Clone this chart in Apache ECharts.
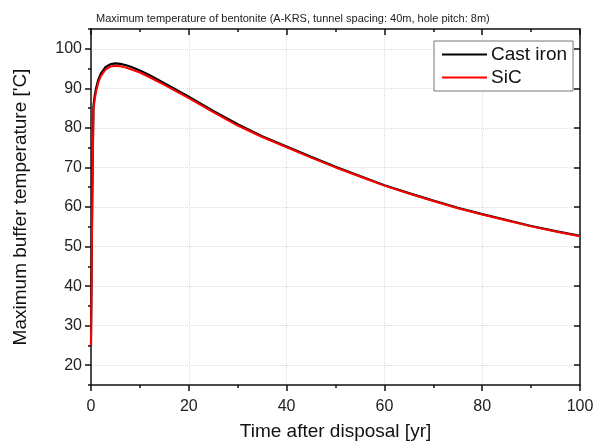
<!DOCTYPE html>
<html>
<head>
<meta charset="utf-8">
<script src="https://cdn.jsdelivr.net/npm/echarts@6/dist/echarts.min.js"></script>
<style>
  html, body { margin: 0; padding: 0; background: #fff; }
  #chart { width: 596px; height: 442px; }
</style>
</head>
<body>
<div id="chart"></div>
<script>
// time after disposal [yr]
var years = [0, 0.25, 0.5, 0.75, 1, 1.5, 2, 3, 4, 5, 6, 7, 8, 10, 12, 15, 20, 25, 30, 35, 40, 45, 50, 55, 60, 65, 70, 75, 80, 85, 90, 95, 100];
// max buffer temperature ['C]
var castIron = [25, 62, 85.5, 88, 89.8, 92.2, 93.7, 95.4, 96.1, 96.3, 96.2, 95.9, 95.5, 94.5, 93.3, 91.3, 87.9, 84.3, 80.9, 77.9, 75.3, 72.7, 70.2, 67.8, 65.5, 63.5, 61.6, 59.8, 58.2, 56.7, 55.2, 53.9, 52.7];
var sic      = [25, 60, 84.5, 87, 89, 91.5, 93.1, 94.8, 95.5, 95.7, 95.6, 95.3, 94.9, 94.0, 92.8, 90.9, 87.5, 84.0, 80.6, 77.7, 75.1, 72.5, 70.0, 67.7, 65.4, 63.4, 61.5, 59.7, 58.1, 56.6, 55.1, 53.8, 52.6];

var yMajor = [20, 30, 40, 50, 60, 70, 80, 90, 100];
var yMinor = [15, 25, 35, 45, 55, 65, 75, 85, 95, 105];

function pairs(xs, ys) {
	return xs.map(function (x, i) { return [x, ys[i]]; });
}

var chart = echarts.init(document.getElementById('chart'));

var axisLine = { show: true, onZero: false, lineStyle: { color: '#111', width: 1.5 } };
var gridLine = { show: true, lineStyle: { color: '#dcdcdc', type: 'dotted', width: 1 } };
var font = 'Liberation Sans, Arial, sans-serif';

var option = {
	animation: false,
	textStyle: { fontFamily: font },
	title: {
		text: 'Maximum temperature of bentonite (A-KRS, tunnel spacing: 40m, hole pitch: 8m)',
		left: 91,
		top: 8,
		textStyle: { fontSize: 11, fontWeight: 'normal', color: '#222', fontFamily: font }
	},
	grid: { left: 91, right: 16, top: 29, bottom: 57, outerBoundsMode: 'none', containLabel: false },
	legend: {
		orient: 'vertical',
		left: 434,
		top: 41,
		padding: [4, 6, 4, 8],
		itemGap: 4,
		itemWidth: 45,
		itemHeight: 2,
		icon: 'rect',
		backgroundColor: '#fff',
		borderColor: '#777',
		borderWidth: 1,
		borderRadius: 0,
		textStyle: { fontSize: 19, color: '#111', fontFamily: font, padding: [0, 0, 0, -1] },
		data: ['Cast iron', 'SiC']
	},
	xAxis: [{
		type: 'value', min: 0, max: 100, interval: 20, position: 'bottom',
		name: 'Time after disposal [yr]', nameLocation: 'middle', nameGap: 37,
		nameTextStyle: { fontSize: 19, color: '#111' },
		axisLine: axisLine,
		axisTick: { show: true, inside: false, length: 6, lineStyle: { color: '#111', width: 1.5 } },
		axisLabel: { fontSize: 16, color: '#222', margin: 14 },
		splitLine: gridLine
	}, {
		type: 'value', min: 0, max: 100, interval: 10, position: 'bottom',
		axisLine: { show: false },
		axisTick: { show: true, inside: false, length: 3, lineStyle: { color: '#111', width: 1.5 } },
		axisLabel: { show: false },
		splitLine: { show: false }
	}, {
		type: 'value', min: 0, max: 100, interval: 20, position: 'top',
		axisLine: axisLine,
		axisTick: { show: true, inside: true, length: 6, lineStyle: { color: '#111', width: 1.5 } },
		axisLabel: { show: false },
		splitLine: { show: false }
	}, {
		type: 'value', min: 0, max: 100, interval: 10, position: 'top',
		axisLine: { show: false },
		axisTick: { show: true, inside: true, length: 3, lineStyle: { color: '#111', width: 1.5 } },
		axisLabel: { show: false },
		splitLine: { show: false }
	}],
	yAxis: [{
		type: 'value', min: 15, max: 105, splitNumber: 9, position: 'left',
		name: "Maximum buffer temperature ['C]", nameLocation: 'middle', nameGap: 61,
		nameTextStyle: { fontSize: 19, color: '#111' },
		axisLine: axisLine,
		axisTick: { show: true, inside: false, length: 6, customValues: yMajor, lineStyle: { color: '#111', width: 1.5 } },
		axisLabel: { fontSize: 16, color: '#222', margin: 9, customValues: yMajor },
		splitLine: gridLine
	}, {
		type: 'value', min: 15, max: 105, position: 'left',
		axisLine: { show: false },
		axisTick: { show: true, inside: false, length: 3, customValues: yMinor, lineStyle: { color: '#111', width: 1.5 } },
		axisLabel: { show: false },
		splitLine: { show: false }
	}, {
		type: 'value', min: 15, max: 105, position: 'right',
		axisLine: axisLine,
		axisTick: { show: true, inside: true, length: 6, customValues: yMajor, lineStyle: { color: '#111', width: 1.5 } },
		axisLabel: { show: false },
		splitLine: { show: false }
	}, {
		type: 'value', min: 15, max: 105, position: 'right',
		axisLine: { show: false },
		axisTick: { show: true, inside: true, length: 3, customValues: yMinor, lineStyle: { color: '#111', width: 1.5 } },
		axisLabel: { show: false },
		splitLine: { show: false }
	}],
	series: [{
		name: 'Cast iron',
		type: 'line',
		xAxisIndex: 0,
		yAxisIndex: 0,
		showSymbol: false,
		symbol: 'none',
		data: pairs(years, castIron),
		itemStyle: { color: '#000' },
		lineStyle: { color: '#000', width: 2.2 }
	}, {
		name: 'SiC',
		type: 'line',
		xAxisIndex: 0,
		yAxisIndex: 0,
		showSymbol: false,
		symbol: 'none',
		data: pairs(years, sic),
		itemStyle: { color: '#f00' },
		lineStyle: { color: '#f00', width: 2 }
	}]
};

chart.setOption(option);
</script>
</body>
</html>
